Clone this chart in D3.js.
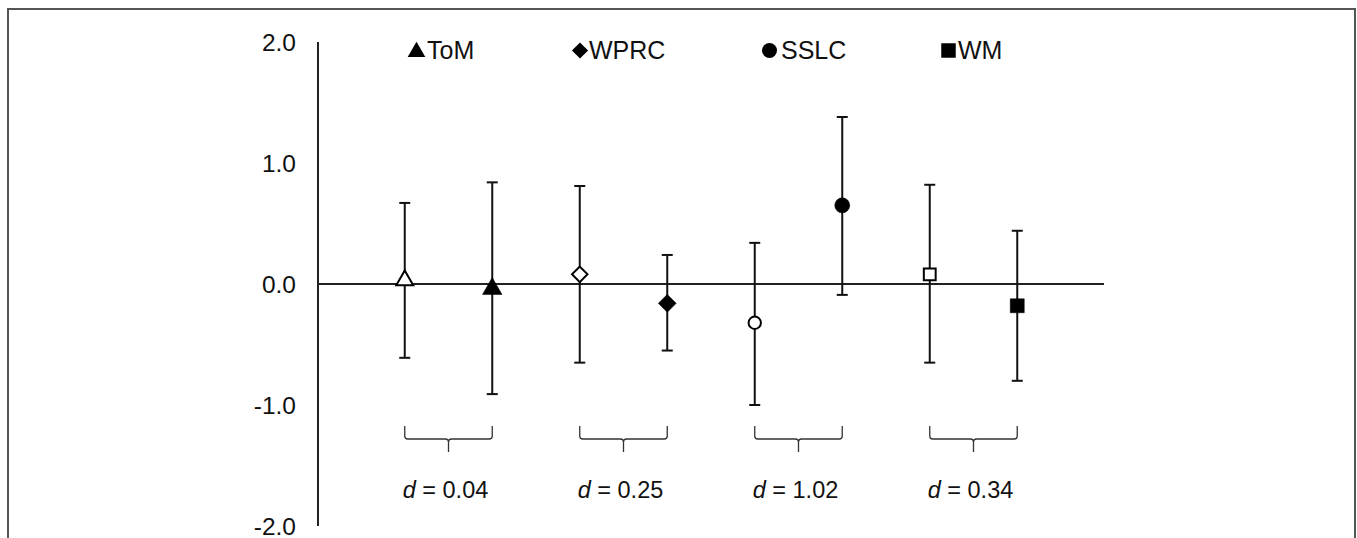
<!DOCTYPE html>
<html><head><meta charset="utf-8">
<script src="https://cdn.jsdelivr.net/npm/d3@7"></script>
<style>html,body{margin:0;padding:0;background:#fff;}svg{display:block;}</style>
</head><body>
<svg id="c" width="1357" height="538"></svg>
<script>
const groups = ["ToM", "WPRC", "SSLC", "WM"];
const shapes = ["triangle", "diamond", "circle", "square"];
const openMean = [0.03, 0.08, -0.32, 0.08];
const openHi = [0.67, 0.81, 0.34, 0.82];
const openLo = [-0.61, -0.65, -1.00, -0.65];
const filledMean = [-0.04, -0.16, 0.65, -0.18];
const filledHi = [0.84, 0.24, 1.38, 0.44];
const filledLo = [-0.91, -0.55, -0.09, -0.80];
const dValues = ["0.04", "0.25", "1.02", "0.34"];
const yTicks = [2, 1, 0, -1, -2];

const svg = d3.select("#c");
const font = "'Liberation Sans', Arial, sans-serif";

// frame
svg.append("rect").attr("x", 8).attr("y", 9).attr("width", 1347).attr("height", 560)
  .attr("fill", "none").attr("stroke", "#555").attr("stroke-width", 2);

const y = d3.scaleLinear().domain([-2, 2]).range([526, 42]);
const xg = d3.scaleBand().domain(groups).range([361, 1061]);
const bw = xg.bandwidth();
const xOpen = g => xg(g) + bw * 0.25;
const xFilled = g => xg(g) + bw * 0.75;
const axisX = 318, axisRight = 1104;

// y axis line
svg.append("line").attr("x1", axisX).attr("x2", axisX).attr("y1", y(2)).attr("y2", y(-2))
  .attr("stroke", "#222").attr("stroke-width", 2);
// tick labels
svg.selectAll("text.tick").data(yTicks).join("text").attr("class", "tick")
  .attr("x", 296).attr("y", d => y(d) + 8.5).attr("text-anchor", "end")
  .attr("font-family", font).attr("font-size", 24.5).attr("fill", "#111")
  .text(d => d3.format(".1f")(d).replace("\u2212", "-"));
// zero line
svg.append("line").attr("x1", axisX).attr("x2", axisRight).attr("y1", y(0)).attr("y2", y(0))
  .attr("stroke", "#222").attr("stroke-width", 2);

function symPath(shape, size) {
  const t = {triangle: d3.symbolTriangle, diamond: d3.symbolSquare, circle: d3.symbolCircle, square: d3.symbolSquare}[shape];
  return d3.symbol().type(t).size(size)();
}
const filledSize = {triangle: 165, diamond: 160, circle: 177, square: 196};
const openSize = {triangle: 125, diamond: 120, circle: 120, square: 140};

function drawErr(x, lo, hi) {
  const g = svg.append("g").attr("stroke", "#111").attr("stroke-width", 2);
  g.append("line").attr("x1", x).attr("x2", x).attr("y1", y(hi)).attr("y2", y(lo));
  g.append("line").attr("x1", x - 5.5).attr("x2", x + 5.5).attr("y1", y(hi)).attr("y2", y(hi));
  g.append("line").attr("x1", x - 5.5).attr("x2", x + 5.5).attr("y1", y(lo)).attr("y2", y(lo));
}
function drawMarker(x, v, shape, filled, size) {
  svg.append("path").attr("d", symPath(shape, size))
    .attr("transform", `translate(${x},${y(v)})` + (shape === "diamond" ? " rotate(45)" : ""))
    .attr("fill", filled ? "#000" : "#fff").attr("stroke", "#000")
    .attr("stroke-width", filled ? 0.5 : 2);
}

groups.forEach((g, i) => {
  drawErr(xOpen(g), openLo[i], openHi[i]);
  drawErr(xFilled(g), filledLo[i], filledHi[i]);
  drawMarker(xOpen(g), openMean[i], shapes[i], false, openSize[shapes[i]]);
  drawMarker(xFilled(g), filledMean[i], shapes[i], true, filledSize[shapes[i]]);

  // brace
  const x1 = xOpen(g), x2 = xFilled(g), xm = (x1 + x2) / 2;
  const top = 426, mid = 439, bot = 452;
  svg.append("path")
    .attr("d", `M${x1},${top} L${x1},${mid - 3} Q${x1},${mid} ${x1 + 3},${mid} L${xm - 3},${mid} Q${xm},${mid} ${xm},${mid + 3} L${xm},${bot} M${xm},${mid + 3} Q${xm},${mid} ${xm + 3},${mid} L${x2 - 3},${mid} Q${x2},${mid} ${x2},${mid - 3} L${x2},${top}`)
    .attr("fill", "none").attr("stroke", "#333").attr("stroke-width", 1.3);

  const t = svg.append("text").attr("x", xm - 3).attr("y", 498).attr("text-anchor", "middle")
    .attr("font-family", font).attr("font-size", 23.5).attr("fill", "#111");
  t.append("tspan").attr("font-style", "italic").text("d");
  t.append("tspan").text(" = " + dValues[i]);
});

// legend
const legSymX = [416.5, 580, 769.5, 948.5];
const legTextX = [427, 589, 781, 958];
const legSize = {triangle: 135, diamond: 130, circle: 177, square: 210};
groups.forEach((g, i) => {
  svg.append("path").attr("d", symPath(shapes[i], legSize[shapes[i]]))
    .attr("transform", `translate(${legSymX[i]},${shapes[i] === "triangle" ? 52 : 50.5})` + (shapes[i] === "diamond" ? " rotate(45)" : ""))
    .attr("fill", "#000");
  svg.append("text").attr("x", legTextX[i]).attr("y", 59).attr("font-family", font)
    .attr("font-size", 25).attr("fill", "#111").text(g);
});
</script>
</body></html>
